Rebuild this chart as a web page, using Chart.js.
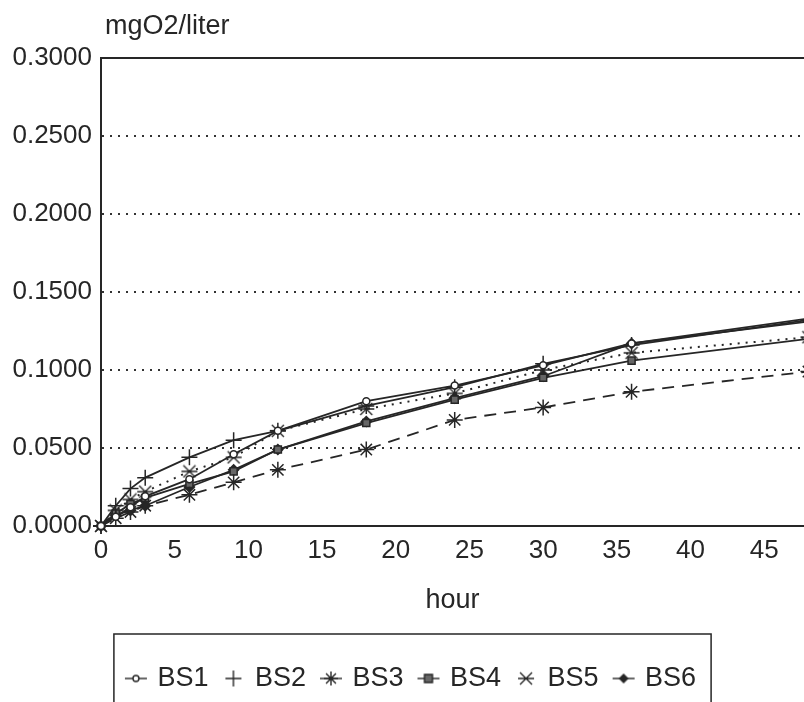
<!DOCTYPE html>
<html>
<head>
<meta charset="utf-8">
<title>mgO2/liter vs hour</title>
<script src="https://cdn.jsdelivr.net/npm/chart.js@4.4.1/dist/chart.umd.min.js"></script>
<style>
    html, body { margin: 0; padding: 0; background: #fff; overflow: hidden; }
    #wrap { width: 804px; height: 702px; position: relative; }
</style>
</head>
<body>
<div id="wrap"><canvas id="chart"></canvas></div>
<script>
/* data */

const hours = [0, 1, 2, 3, 6, 9, 12, 18, 24, 30, 36, 48];
const bs1 = [0, 0.006, 0.012, 0.019, 0.030, 0.046, 0.061, 0.080, 0.090, 0.103, 0.117, 0.133];
const bs2 = [0, 0.013, 0.024, 0.031, 0.044, 0.055, 0.061, 0.077, 0.089, 0.104, 0.116, 0.132];
const bs3 = [0, 0.005, 0.009, 0.013, 0.020, 0.028, 0.036, 0.049, 0.068, 0.076, 0.086, 0.099];
const bs4 = [0, 0.008, 0.014, 0.018, 0.027, 0.035, 0.049, 0.066, 0.081, 0.095, 0.106, 0.120];
const bs5 = [0, 0.010, 0.017, 0.022, 0.035, 0.044, 0.061, 0.075, 0.085, 0.100, 0.111, 0.121];
const bs6 = [0, 0.007, 0.010, 0.013, 0.025, 0.036, 0.049, 0.067, 0.082, 0.096, 0.117, 0.131];
const seriesNames = ["BS1", "BS2", "BS3", "BS4", "BS5", "BS6"];
const xTickStep = 5;
const yTickStep = 0.05;
const yMax = 0.3;
const xVisibleMax = 47.7; // the scan is cut off just before 48 h

const ink = "#262626";
const fontFamily = "'Liberation Sans', Arial, sans-serif";

//small helper: draw a marker on an offscreen canvas
function markerCanvas(kind, w, h, withLine) {
    const c = document.createElement("canvas");
    c.width = w;
    c.height = h;
    const g = c.getContext("2d");
    const cx = w / 2, cy = h / 2;
    g.strokeStyle = ink;
    g.fillStyle = ink;
    g.lineWidth = 1.4;
    if (withLine) {
        g.beginPath();
        g.moveTo(1, cy);
        g.lineTo(w - 1, cy);
        g.stroke();
    }
    const r = 5;
    g.beginPath();
    if (kind === "circle") {
        g.fillStyle = "#fff";
        g.arc(cx, cy, 3, 0, Math.PI * 2);
        g.fill();
        g.stroke();
    } else if (kind === "cross") {
        g.moveTo(cx - 8, cy); g.lineTo(cx + 8, cy);
        g.moveTo(cx, cy - 8); g.lineTo(cx, cy + 8);
        g.stroke();
    } else if (kind === "star") {
        for (let a = 0; a < 4; a++) {
            const t = a * Math.PI / 4;
            g.moveTo(cx - Math.cos(t) * 7, cy - Math.sin(t) * 7);
            g.lineTo(cx + Math.cos(t) * 7, cy + Math.sin(t) * 7);
        }
        g.stroke();
    } else if (kind === "rect") {
        g.fillStyle = "#666";
        g.rect(cx - 4, cy - 4, 8, 8);
        g.fill();
        g.stroke();
    } else if (kind === "xbar") {
        g.moveTo(cx - 8, cy); g.lineTo(cx + 8, cy);
        g.moveTo(cx - 6, cy - 6); g.lineTo(cx + 6, cy + 6);
        g.moveTo(cx - 6, cy + 6); g.lineTo(cx + 6, cy - 6);
        g.stroke();
    } else if (kind === "diamond") {
        g.moveTo(cx, cy - r); g.lineTo(cx + r, cy); g.lineTo(cx, cy + r); g.lineTo(cx - r, cy);
        g.closePath();
        g.fill();
    }
    return c;
}

const markerKinds = ["circle", "cross", "star", "rect", "xbar", "diamond"];
const legendIcons = markerKinds.map(k => markerCanvas(k, 24, 18, k !== "cross" && k !== "xbar"));
const bs5Point = markerCanvas("xbar", 18, 14, false);

function toPoints(values) {
    return hours.map((h, i) => ({ x: h, y: values[i] }));
}

const seriesValues = [bs1, bs2, bs3, bs4, bs5, bs6];

const datasets = seriesValues.map((vals, i) => {
    const ds = {
        label: seriesNames[i],
        data: toPoints(vals),
        borderColor: ink,
        backgroundColor: ink,
        borderWidth: 1.8,
        pointBorderColor: ink,
        pointBorderWidth: 1.5,
        tension: 0,
        clip: false
    };
    return ds;
});
// per-series look
datasets[0].pointStyle = "circle";      datasets[0].pointRadius = 3.5; datasets[0].pointBackgroundColor = "#fff";
datasets[1].pointStyle = "cross";       datasets[1].pointRadius = 8;
datasets[2].pointStyle = "star";        datasets[2].pointRadius = 8;   datasets[2].borderDash = [12, 8];
datasets[3].pointStyle = "rect";        datasets[3].pointRadius = 5;   datasets[3].pointBackgroundColor = "#666";
datasets[4].pointStyle = bs5Point;      datasets[4].borderDash = [2, 6]; datasets[4].borderWidth = 2;
datasets[5].pointStyle = "rectRot";     datasets[5].pointRadius = 5;

//solid top edge of the plot, the y title and the box round the legend
const framePlugin = {
    id: "frame",
    afterLayout(chart) {
        // the legend sits a little right of the canvas centre in the scan
        chart.legend.left += 10;
        chart.legend.right += 10;
    },
    beforeDatasetsDraw(chart) {
        const { ctx, chartArea } = chart;
        ctx.save();
        ctx.strokeStyle = ink;
        ctx.lineWidth = 2;
        ctx.beginPath();
        ctx.moveTo(chartArea.left, chartArea.top);
        ctx.lineTo(chartArea.right, chartArea.top);
        ctx.stroke();
        ctx.restore();
    },
    afterDraw(chart) {
        const { ctx, chartArea } = chart;
        ctx.save();
        ctx.fillStyle = ink;
        ctx.font = "27px " + fontFamily;
        ctx.textBaseline = "middle";
        ctx.textAlign = "left";
        ctx.fillText("mgO2/liter", chartArea.left + 4, 27);

        const boxes = chart.legend.legendHitBoxes;
        if (boxes && boxes.length) {
            const left = Math.min(...boxes.map(b => b.left)) - 14;
            const right = Math.max(...boxes.map(b => b.left + b.width)) + 15;
            const top = chart.legend.top - 14;
            ctx.strokeStyle = ink;
            ctx.lineWidth = 1.5;
            ctx.strokeRect(left, top, right - left, chart.height + 10 - top);
        }
        ctx.restore();
    }
};

const config = {
    type: "line",
    data: { datasets: datasets },
    options: {
        responsive: true,
        maintainAspectRatio: false,
        animation: false,
        layout: { autoPadding: false, padding: { top: 58, left: 0, right: 0, bottom: 0 } },
        scales: {
            x: {
                type: "linear",
                min: 0,
                max: xVisibleMax,
                afterBuildTicks: s => { s.ticks = s.ticks.filter(t => t.value % xTickStep === 0); },
                afterFit: s => { s.height = 122; s.paddingRight = 0; },
                ticks: {
                    stepSize: xTickStep,
                    includeBounds: false,
                    color: ink,
                    padding: 1,
                    maxRotation: 0,
                    autoSkip: false,
                    font: { family: fontFamily, size: 26 }
                },
                grid: { display: false },
                border: { display: true, color: ink, width: 2 },
                title: {
                    display: true,
                    text: "hour",
                    color: ink,
                    font: { family: fontFamily, size: 27 },
                    padding: { top: 0, bottom: 31 }
                }
            },
            y: {
                min: 0,
                max: yMax,
                afterFit: s => { s.width = 101; },
                ticks: {
                    stepSize: yTickStep,
                    color: ink,
                    padding: 9,
                    font: { family: fontFamily, size: 26 },
                    callback: v => Number(v).toFixed(4)
                },
                grid: {
                    drawTicks: false,
                    lineWidth: 2,
                    color: c => (c.tick && (c.tick.value === 0 || Math.abs(c.tick.value - yMax) < 1e-9)) ? "rgba(0,0,0,0)" : "#333"
                },
                border: { display: true, color: ink, width: 2, dash: [2, 6] }
            }
        },
        plugins: {
            legend: {
                position: "bottom",
                labels: {
                    usePointStyle: true,
                    pointStyleWidth: 16,
                    padding: 17,
                    color: ink,
                    font: { family: fontFamily, size: 27 },
                    generateLabels: chart => chart.data.datasets.map((ds, i) => ({
                        text: ds.label,
                        pointStyle: legendIcons[i],
                        fillStyle: ink,
                        strokeStyle: ink,
                        lineWidth: 0,
                        fontColor: ink,
                        hidden: false,
                        datasetIndex: i
                    }))
                }
            },
            tooltip: { enabled: false }
        }
    },
    plugins: [framePlugin]
};

const ctx = document.getElementById("chart").getContext("2d");
const chart = new Chart(ctx, config);
</script>
</body>
</html>
